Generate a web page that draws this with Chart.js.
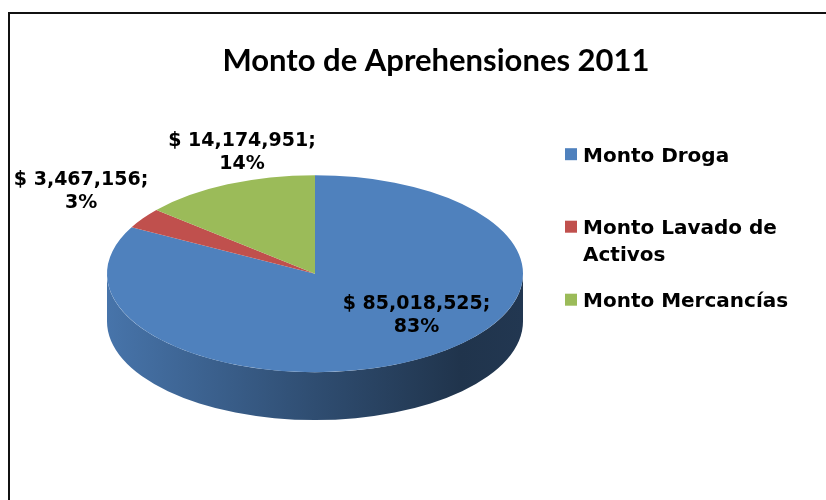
<!DOCTYPE html>
<html>
<head>
<meta charset="utf-8">
<title>Monto de Aprehensiones 2011</title>
<script src="https://cdn.jsdelivr.net/npm/chart.js@4.4.1/dist/chart.umd.min.js"></script>
<style>
  html, body { margin: 0; padding: 0; background: #fff; overflow: hidden; }
  #frame { position: absolute; left: 8px; top: 12px; width: 880px; height: 540px; border: 2px solid #111; }
  #chart { position: absolute; left: 0; top: 0; }
</style>
</head>
<body>
<div id="frame"><canvas id="chart" width="850" height="486"></canvas></div>
<script>
// Data
const chartTitle = 'Monto de Aprehensiones 2011';
const categories = ['Monto Droga', ['Monto Lavado de', 'Activos'], 'Monto Mercancías'];
const amounts = [85018525, 3467156, 14174951];
const sliceColors = ['#4F81BD', '#C0504D', '#9BBB59'];

// 3D look
const TILT = 0.4736;   // ry / rx of the top face
const DEPTH = 0.23;    // side wall height / rx

// where each value label sits, as factors of rx / ry along the slice mid angle
const labelPlacement = [[0.95, 0.49], [1.36, 1.48], [0.835, 1.35]];

// legend: first-line baseline of each entry, from the top of the legend box
const legendRows = [52.5, 125, 198];
const LEGEND_WIDTH = 242;

function shade(hex, f) {
    const n = parseInt(hex.slice(1), 16);
    const r = Math.round(((n >> 16) & 255) * f);
    const g = Math.round(((n >> 8) & 255) * f);
    const b = Math.round((n & 255) * f);
    return `rgb(${r},${g},${b})`;
}

function pieGeometry(chart) {
    const area = chart.chartArea;
    const rx = (area.right - area.left) / 2;
    const depth = rx * DEPTH;
    return {
        cx: (area.left + area.right) / 2,
        cy: (area.top + area.bottom) / 2 - depth / 2,
        rx: rx,
        ry: rx * TILT,
        depth: depth
    };
}

// Squash the library's pie into an ellipse and give it a side wall
const pie3d = {
    id: 'pie3d',
    beforeDatasetsDraw(chart) {
        const ctx = chart.ctx;
        const g = pieGeometry(chart);
        const arcs = chart.getDatasetMeta(0).data;
        if (!arcs.length) return;

        arcs.forEach((arc, i) => {
            // only the front half (0..PI) of the rim is visible
            const a0 = Math.max(arc.startAngle, 0);
            const a1 = Math.min(arc.endAngle, Math.PI);
            if (a1 <= a0) return;
            const color = sliceColors[i];
            const grad = ctx.createLinearGradient(g.cx - g.rx, 0, g.cx + g.rx, 0);
            grad.addColorStop(0, shade(color, 0.9));
            grad.addColorStop(0.5, shade(color, 0.6));
            grad.addColorStop(0.85, shade(color, 0.4));
            grad.addColorStop(1, shade(color, 0.43));
            ctx.beginPath();
            ctx.ellipse(g.cx, g.cy, g.rx, g.ry, 0, a0, a1);
            ctx.ellipse(g.cx, g.cy + g.depth, g.rx, g.ry, 0, a1, a0, true);
            ctx.closePath();
            ctx.fillStyle = grad;
            ctx.fill();
        });

        const first = arcs[0];
        const s = g.rx / first.outerRadius;
        ctx.save();
        ctx.translate(g.cx, g.cy);
        ctx.scale(s, s * TILT);
        ctx.translate(-first.x, -first.y);
    },
    afterDatasetsDraw(chart) {
        const ctx = chart.ctx;
        const arcs = chart.getDatasetMeta(0).data;
        if (!arcs.length) return;
        ctx.restore();

        // value labels
        const g = pieGeometry(chart);
        const values = chart.data.datasets[0].data;
        const total = values.reduce((a, b) => a + b, 0);
        ctx.save();
        ctx.font = 'bold 19px "DejaVu Sans", Verdana, sans-serif';
        ctx.fillStyle = '#000';
        ctx.textAlign = 'center';
        ctx.textBaseline = 'middle';
        arcs.forEach((arc, i) => {
            const mid = (arc.startAngle + arc.endAngle) / 2;
            const [fx, fy] = labelPlacement[i];
            const x = g.cx + fx * g.rx * Math.cos(mid);
            const y = g.cy + fy * g.ry * Math.sin(mid);
            const lines = [
                '$ ' + values[i].toLocaleString('en-US') + ';',
                Math.round(values[i] / total * 100) + '%'
            ];
            lines.forEach((t, k) => ctx.fillText(t, x, y + (k - 0.5) * 23));
        });
        ctx.restore();
    }
};

// Legend drawn as a layout box on the right, so the title still spans the full width
const sideLegend = {
    id: 'sideLegend',
    beforeInit(chart) {
        const box = {
            position: 'right',
            weight: 0,
            fullSize: false,
            options: { display: true },
            left: 0, top: 0, right: 0, bottom: 0, width: 0, height: 0,
            isHorizontal() { return false; },
            update(maxWidth, maxHeight) {
                this.width = LEGEND_WIDTH;
                this.height = maxHeight;
            },
            getPadding() { return { left: 0, top: 0, right: 0, bottom: 0 }; },
            draw() {
                const ctx = chart.ctx;
                const labels = chart.data.labels;
                const colors = chart.data.datasets[0].backgroundColor;
                ctx.save();
                ctx.font = 'bold 20px "DejaVu Sans", Verdana, sans-serif';
                ctx.fillStyle = '#000';
                ctx.textAlign = 'left';
                ctx.textBaseline = 'alphabetic';
                labels.forEach((label, i) => {
                    const base = this.top + legendRows[i];
                    ctx.fillStyle = colors[i];
                    ctx.fillRect(this.left + 42, base - 13.5, 12, 12);
                    ctx.fillStyle = '#000';
                    const lines = Array.isArray(label) ? label : [label];
                    lines.forEach((t, k) => ctx.fillText(t, this.left + 60, base + k * 27));
                });
                ctx.restore();
            }
        };
        Chart.layouts.addBox(chart, box);
    }
};

new Chart(document.getElementById('chart'), {
    type: 'pie',
    data: {
        labels: categories,
        datasets: [{
            data: amounts,
            backgroundColor: sliceColors,
            borderWidth: 0,
            clip: false
        }]
    },
    options: {
        responsive: false,
        devicePixelRatio: 1,
        animation: false,
        events: [],
        layout: { padding: { left: 97, right: 95, top: 0, bottom: 14 } },
        plugins: {
            legend: { display: false },
            tooltip: { enabled: false },
            title: {
                display: true,
                text: chartTitle,
                color: '#000',
                font: { family: 'Lato, "Liberation Sans", sans-serif', size: 31, weight: 'bold' },
                padding: { top: 28, bottom: 30 }
            }
        }
    },
    plugins: [pie3d, sideLegend]
});
</script>
</body>
</html>
